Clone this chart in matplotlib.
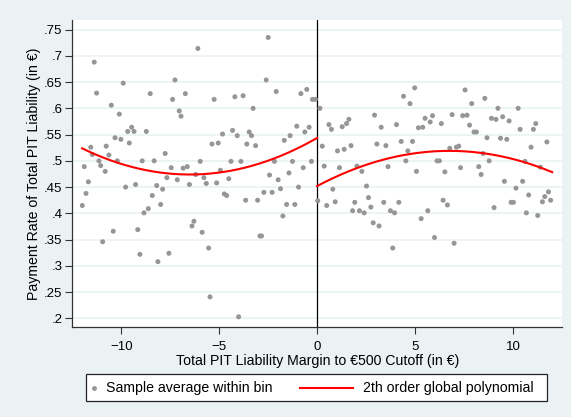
import numpy as np
import matplotlib
matplotlib.use('Agg')
import matplotlib.pyplot as plt
from matplotlib.lines import Line2D
from matplotlib.patches import Rectangle

# Bin averages left of the cutoff (margin in euro, payment rate)
left_x = [-11.99, -11.89, -11.80, -11.68, -11.56, -11.48, -11.38, -11.26, -11.14, -11.05,
          -10.95, -10.82, -10.77, -10.63, -10.51, -10.41, -10.32, -10.20, -10.10, -10.02,
          -9.90, -9.78, -9.67, -9.59, -9.47, -9.35, -9.27, -9.16, -9.05, -8.93,
          -8.84, -8.72, -8.62, -8.52, -8.42, -8.32, -8.19, -8.13, -7.99, -7.89,
          -7.76, -7.67, -7.57, -7.45, -7.38, -7.26, -7.14, -7.04, -6.95, -6.84,
          -6.73, -6.63, -6.52, -6.39, -6.29, -6.20, -6.09, -5.97, -5.87, -5.78,
          -5.66, -5.54, -5.47, -5.37, -5.26, -5.13, -5.05, -4.94, -4.83, -4.74,
          -4.62, -4.51, -4.40, -4.32, -4.20, -4.08, -4.01, -3.89, -3.78, -3.65,
          -3.59, -3.47, -3.35, -3.27, -3.14, -3.04, -2.92, -2.84, -2.72, -2.60,
          -2.50, -2.43, -2.30, -2.18, -2.09, -1.99, -1.87, -1.75, -1.68, -1.56,
          -1.44, -1.38, -1.26, -1.14, -1.04, -0.95, -0.83, -0.71, -0.63, -0.53,
          -0.41, -0.29, -0.24, -0.09]
left_y = [0.415, 0.489, 0.438, 0.460, 0.526, 0.512, 0.688, 0.629, 0.500, 0.491,
          0.346, 0.480, 0.528, 0.511, 0.606, 0.366, 0.544, 0.500, 0.589, 0.541,
          0.648, 0.450, 0.556, 0.534, 0.564, 0.556, 0.455, 0.369, 0.322, 0.500,
          0.401, 0.556, 0.409, 0.628, 0.434, 0.500, 0.453, 0.308, 0.417, 0.446,
          0.514, 0.468, 0.324, 0.487, 0.617, 0.654, 0.464, 0.595, 0.585, 0.486,
          0.628, 0.489, 0.455, 0.376, 0.385, 0.474, 0.714, 0.499, 0.364, 0.468,
          0.457, 0.334, 0.241, 0.532, 0.617, 0.458, 0.534, 0.482, 0.551, 0.437,
          0.434, 0.466, 0.499, 0.558, 0.622, 0.548, 0.203, 0.499, 0.624, 0.425,
          0.532, 0.555, 0.548, 0.600, 0.529, 0.425, 0.357, 0.357, 0.440, 0.654,
          0.735, 0.473, 0.440, 0.499, 0.632, 0.464, 0.447, 0.395, 0.539, 0.417,
          0.477, 0.548, 0.499, 0.417, 0.566, 0.450, 0.628, 0.487, 0.555, 0.636,
          0.564, 0.499, 0.617, 0.617]

# Bin averages right of the cutoff
right_x = [0.03, 0.14, 0.26, 0.36, 0.49, 0.60, 0.73, 0.80, 0.92, 1.04,
           1.14, 1.28, 1.38, 1.50, 1.62, 1.73, 1.81, 1.92, 2.03, 2.16,
           2.28, 2.40, 2.52, 2.62, 2.74, 2.86, 2.93, 3.05, 3.16, 3.27,
           3.40, 3.51, 3.62, 3.74, 3.86, 3.95, 4.05, 4.17, 4.29, 4.41,
           4.53, 4.63, 4.74, 4.87, 4.98, 5.07, 5.17, 5.31, 5.39, 5.51,
           5.65, 5.77, 5.89, 5.99, 6.12, 6.24, 6.34, 6.43, 6.52, 6.65,
           6.77, 6.89, 6.99, 7.11, 7.23, 7.32, 7.43, 7.55, 7.65, 7.78,
           7.89, 8.01, 8.13, 8.25, 8.37, 8.47, 8.56, 8.67, 8.78, 8.90,
           9.03, 9.13, 9.23, 9.36, 9.47, 9.56, 9.68, 9.80, 9.90, 10.02,
           10.15, 10.26, 10.36, 10.49, 10.61, 10.68, 10.80, 10.92, 11.04, 11.16,
           11.26, 11.40, 11.50, 11.62, 11.73, 11.81, 11.92]
right_y = [0.424, 0.600, 0.528, 0.490, 0.415, 0.569, 0.560, 0.446, 0.422, 0.519,
           0.487, 0.565, 0.522, 0.571, 0.579, 0.529, 0.405, 0.421, 0.490, 0.405,
           0.480, 0.401, 0.452, 0.430, 0.412, 0.382, 0.587, 0.532, 0.376, 0.564,
           0.421, 0.529, 0.489, 0.405, 0.334, 0.401, 0.569, 0.421, 0.537, 0.623,
           0.500, 0.519, 0.609, 0.537, 0.639, 0.480, 0.563, 0.390, 0.564, 0.581,
           0.405, 0.574, 0.586, 0.354, 0.500, 0.500, 0.571, 0.425, 0.479, 0.416,
           0.524, 0.588, 0.343, 0.526, 0.528, 0.487, 0.586, 0.635, 0.587, 0.568,
           0.609, 0.555, 0.555, 0.489, 0.474, 0.514, 0.619, 0.544, 0.500, 0.581,
           0.411, 0.579, 0.600, 0.543, 0.584, 0.461, 0.541, 0.576, 0.421, 0.421,
           0.448, 0.600, 0.560, 0.461, 0.499, 0.401, 0.435, 0.526, 0.560, 0.571,
           0.396, 0.488, 0.422, 0.432, 0.536, 0.441, 0.425]

# Quadratic fit on each side (highest power first) and its support
left_poly = [0.00165, 0.02145, 0.5437]
right_poly = [-0.00147, 0.019845, 0.4520]
left_range = [-12, 0]
right_range = [0, 12]

y_ticks = [.2, .25, .3, .35, .4, .45, .5, .55, .6, .65, .7, .75]
y_tick_labels = ['.2', '.25', '.3', '.35', '.4', '.45', '.5', '.55', '.6', '.65', '.7', '.75']
x_ticks = [-10, -5, 0, 5, 10]

plt.rcParams['font.family'] = ['Liberation Sans', 'DejaVu Sans']

W, H = 571, 417
bg = '#EAF2F3'
dot_color = '#969696'

fig = plt.figure(figsize=(W / 100, H / 100), dpi=100, facecolor=bg)
ax = fig.add_axes([72.3 / W, 1 - 326.7 / H, (562 - 72.3) / W, (326.7 - 20) / H])
ax.set_facecolor('white')

ax.set_xlim(-12.5, 12.5)
ax.set_ylim(0.1842, 0.7682)

# Horizontal grid only
for t in y_ticks:
    ax.axhline(t, color=bg, lw=1.2, zorder=0)

ax.scatter(left_x, left_y, s=13, color=dot_color, edgecolors='none', zorder=3)
ax.scatter(right_x, right_y, s=13, color=dot_color, edgecolors='none', zorder=3)

xl = np.linspace(left_range[0], left_range[1], 200)
xr = np.linspace(right_range[0], right_range[1], 200)
ax.plot(xl, np.polyval(left_poly, xl), color='red', lw=1.5, zorder=4)
ax.plot(xr, np.polyval(right_poly, xr), color='red', lw=1.5, zorder=4)

# Cutoff
ax.axvline(0, color='black', lw=0.9, zorder=2)

for side in ['top', 'right']:
    ax.spines[side].set_visible(False)
for side in ['left', 'bottom']:
    ax.spines[side].set_color('#333333')
    ax.spines[side].set_linewidth(0.9)

ax.set_yticks(y_ticks)
ax.set_yticklabels(y_tick_labels)
ax.set_xticks(x_ticks)
ax.tick_params(axis='both', direction='out', length=5, width=0.8, color='#333333',
               labelsize=9.5, pad=2)
ax.tick_params(axis='x', length=5, pad=5)

ax.set_xlabel('Total PIT Liability Margin to €500 Cutoff (in €)', fontsize=10.2, labelpad=1)
ax.set_ylabel('Payment Rate of Total PIT Liability (in €)', fontsize=10.2, labelpad=2)

# Legend box drawn in figure pixels
lx0, ly0, lx1, ly1 = 86, 374.3, 547.3, 400.7
fig.patches.append(Rectangle((lx0 / W, 1 - ly1 / H), (lx1 - lx0) / W, (ly1 - ly0) / H,
                             transform=fig.transFigure, facecolor='white',
                             edgecolor='#222222', lw=0.9))
ly = 1 - 388 / H
fig.lines.append(Line2D([94 / W], [ly], marker='o', markersize=2.5, color=dot_color,
                        linestyle='none', transform=fig.transFigure))
fig.text(106 / W, ly, 'Sample average within bin', fontsize=10.2, va='center', ha='left')
fig.lines.append(Line2D([300 / W, 353.3 / W], [ly, ly], color='red', lw=1.5,
                        transform=fig.transFigure))
fig.text(363.3 / W, ly, '2th order global polynomial', fontsize=10.2, va='center', ha='left')

fig.savefig('out.png', dpi=100, facecolor=bg)
